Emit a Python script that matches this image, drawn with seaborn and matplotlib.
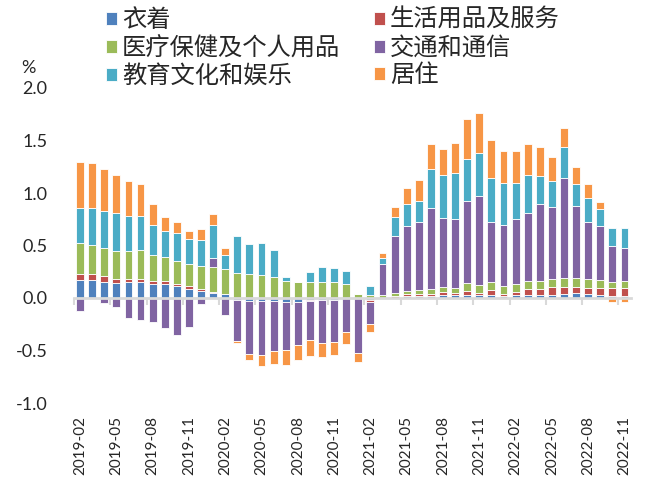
import numpy as np
import pandas as pd
import seaborn as sns
import matplotlib.pyplot as plt

# months on the x axis
months = pd.period_range("2019-02", "2022-11", freq="M").strftime("%Y-%m").tolist()

# contributions by category (percentage points)
clothing = [0.17, 0.17, 0.15, 0.14, 0.15, 0.15, 0.13, 0.13, 0.11, 0.09, 0.067, 0.045,
            0.038, -0.02, -0.03, -0.025, -0.025, -0.035, -0.038, -0.02, -0.016, -0.02, 0.0, 0.0,
            -0.02, 0.0, 0.0, 0.02, 0.02, 0.02, 0.025, 0.025, 0.025, 0.025, 0.03, 0.02,
            0.025, 0.03, 0.025, 0.03, 0.038, 0.044, 0.035, 0.03, 0.022, 0.022]
household = [0.06, 0.055, 0.057, 0.044, 0.035, 0.035, 0.035, 0.03, 0.02, 0.02, 0.016, 0.013,
             0.0, 0.0, 0.0, 0.0, 0.0, 0.0, 0.0, -0.006, 0.0, 0.0, 0.0, 0.0,
             -0.02, 0.0, 0.02, 0.016, 0.016, 0.02, 0.03, 0.025, 0.045, 0.025, 0.05, 0.02,
             0.035, 0.054, 0.063, 0.073, 0.07, 0.063, 0.063, 0.07, 0.076, 0.076]
health = [0.29, 0.28, 0.27, 0.26, 0.26, 0.27, 0.24, 0.23, 0.22, 0.21, 0.22, 0.235,
          0.235, 0.235, 0.23, 0.216, 0.20, 0.16, 0.15, 0.15, 0.15, 0.15, 0.13, 0.04,
          0.03, 0.025, 0.025, 0.03, 0.04, 0.05, 0.05, 0.05, 0.07, 0.07, 0.076, 0.073,
          0.073, 0.08, 0.076, 0.076, 0.083, 0.083, 0.08, 0.073, 0.054, 0.06]
transport = [-0.12, 0.0, -0.045, -0.085, -0.19, -0.21, -0.23, -0.29, -0.35, -0.28, -0.06, 0.092,
             -0.16, -0.39, -0.50, -0.52, -0.48, -0.46, -0.41, -0.37, -0.41, -0.40, -0.32, -0.52,
             -0.21, 0.30, 0.55, 0.62, 0.65, 0.77, 0.66, 0.65, 0.78, 0.85, 0.565, 0.58,
             0.62, 0.65, 0.73, 0.69, 0.955, 0.69, 0.55, 0.51, 0.346, 0.32]
education = [0.34, 0.35, 0.35, 0.365, 0.34, 0.33, 0.29, 0.245, 0.27, 0.24, 0.25, 0.31,
             0.137, 0.356, 0.28, 0.31, 0.26, 0.044, 0.0, 0.10, 0.15, 0.14, 0.13, 0.0,
             0.08, 0.057, 0.175, 0.206, 0.20, 0.37, 0.41, 0.44, 0.40, 0.41, 0.42, 0.40,
             0.34, 0.36, 0.27, 0.25, 0.29, 0.21, 0.22, 0.165, 0.168, 0.184]
housing = [0.44, 0.43, 0.40, 0.365, 0.33, 0.30, 0.20, 0.14, 0.10, 0.08, 0.10, 0.105,
           0.063, -0.02, -0.06, -0.10, -0.12, -0.14, -0.14, -0.16, -0.14, -0.12, -0.12, -0.09,
           -0.07, 0.044, 0.092, 0.156, 0.20, 0.24, 0.24, 0.29, 0.38, 0.38, 0.36, 0.31,
           0.31, 0.29, 0.27, 0.225, 0.18, 0.156, 0.137, 0.07, -0.04, -0.04]

names = ["衣着", "生活用品及服务", "医疗保健及个人用品", "交通和通信", "教育文化和娱乐", "居住"]
colors = ["#4f81bd", "#c0504d", "#9bbb59", "#8064a2", "#4bacc6", "#f79646"]
series = [clothing, household, health, transport, education, housing]

sns.set_theme(style="white")
plt.rcParams['font.family'] = ['Lato', 'Noto Sans CJK SC']
plt.rcParams['axes.unicode_minus'] = False

fig = plt.figure(figsize=(6.56, 4.95), dpi=100)
ax = fig.add_axes([74 / 656, 1 - 403 / 495, 556.5 / 656, 315 / 495])

# stack positives upward and negatives downward
pos_base = np.zeros(len(months))
neg_base = np.zeros(len(months))
for name, vals, color in zip(names, series, colors):
    v = np.array(vals)
    bottom = np.where(v >= 0, pos_base, neg_base)
    sns.barplot(x=months, y=v, bottom=bottom, color=color, saturation=1,
                width=0.65, edgecolor="white", linewidth=0.6, errorbar=None,
                label=name, ax=ax)
    pos_base += np.clip(v, 0, None)
    neg_base += np.clip(v, None, 0)

if ax.get_legend() is not None:
    ax.get_legend().remove()

ax.set_xlim(-0.5, len(months) - 0.5)
ax.set_ylim(-1, 2)
ax.set_yticks(np.arange(-1, 2.01, 0.5))
ax.set_yticklabels([f"{t:.1f}" for t in np.arange(-1, 2.01, 0.5)], fontsize=13)
ax.tick_params(axis="y", length=0, pad=19)

ax.set_xticks(range(0, len(months), 3))
ax.set_xticklabels(months[::3], fontsize=13)
ax.set_xticks(np.arange(-0.5, len(months) - 1, 3), minor=True)
ax.tick_params(axis="x", which="major", length=0, pad=85, labelrotation=90)
ax.tick_params(axis="x", which="minor", bottom=True, length=5, width=1.5,
               color="#d9d9d9", direction="out")
ax.set_xlabel("")
ax.set_ylabel("")

for s in ["top", "right", "left"]:
    ax.spines[s].set_visible(False)
ax.spines["bottom"].set_position(("data", 0))
ax.spines["bottom"].set_color("#d9d9d9")
ax.spines["bottom"].set_linewidth(2)

fig.text(21 / 656, 1 - 68 / 495, "%", fontsize=13, ha="left", va="center")

handles, labels = ax.get_legend_handles_labels()
order = [0, 2, 4, 1, 3, 5]
fig.legend([handles[i] for i in order], [labels[i] for i in order], ncol=2,
           loc="upper left", bbox_to_anchor=(106 / 656, 1 - 8 / 495),
           frameon=False, fontsize=17.5, handlelength=0.45, handleheight=0.45,
           handletextpad=0.2, columnspacing=1.4, labelspacing=0.2,
           borderpad=0, borderaxespad=0)

fig.savefig("out.png", dpi=100)
